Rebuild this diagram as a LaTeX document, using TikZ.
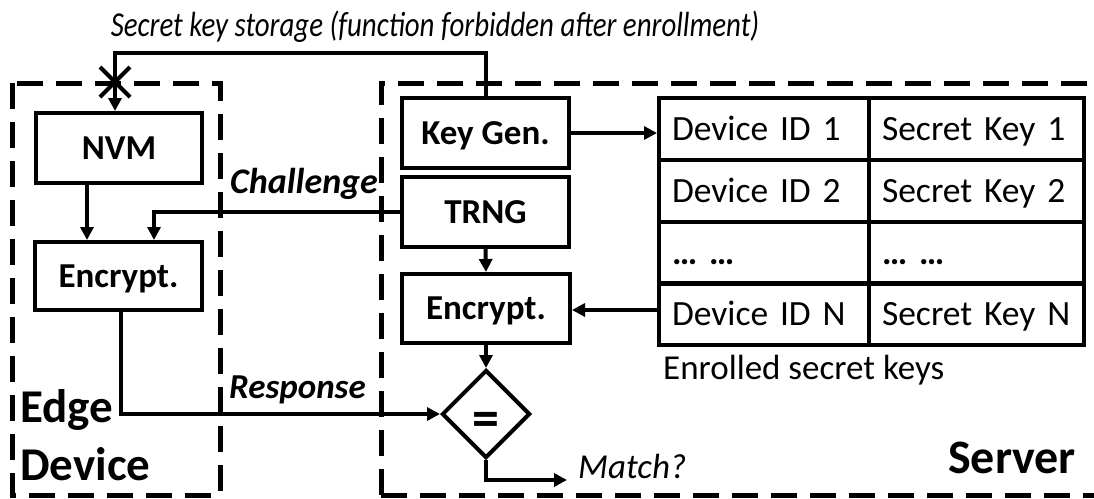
\documentclass[tikz,border=0pt]{standalone}
\usepackage{fontspec}
\setmainfont{Carlito}
\usetikzlibrary{arrows.meta,shapes.geometric}

\tikzset{
  blk/.style={draw, line width=4pt, fill=white, inner sep=0pt,
              minimum width=167pt, minimum height=69pt,
              text height=22.5pt, text depth=0pt,
              font=\fontsize{35}{40}\selectfont\bfseries},
  cell/.style={draw, line width=4pt, inner xsep=13pt, inner ysep=0pt,
               minimum height=62pt, align=left,
               text height=23pt, text depth=0pt,
               font=\fontsize{35.5}{40}\selectfont},
  zone/.style={line width=5pt, dash pattern=on 26pt off 13pt},
  wire/.style={line width=4pt},
  arr/.style={wire, -{Triangle[length=13pt,width=13pt]}},
  lbl/.style={inner sep=0pt, font=\fontsize{35}{40}\selectfont},
  big/.style={inner sep=0pt, font=\fontsize{47}{50}\selectfont\bfseries},
}

\begin{document}
\begin{tikzpicture}[x=1pt,y=-1pt]
\useasboundingbox (0,0) rectangle (1094,498);

% trust zones
\draw[zone] (12,83) rectangle (220,495);
\draw[zone] (381,495) -- (381,83) -- (1120,83);
\draw[zone] (381,495) -- (1120,495);

% edge device blocks
\node[blk, minimum width=166pt, minimum height=70pt] (nvm) at (119,148) {NVM};
\node[blk, minimum height=68pt] (ence) at (118.5,276) {Encrypt.};

% server blocks
\node[blk, minimum height=70pt] (kg) at (485.5,133) {Key Gen.};
\node[blk, minimum height=70pt] (trng) at (485.5,212) {TRNG};
\node[blk, minimum width=168pt] (encs) at (486,308.5) {Encrypt.};
\node[draw, diamond, aspect=1, line width=4pt, inner sep=0pt,
      minimum width=88pt, minimum height=88pt] (eq) at (486,414) {};
\node[inner sep=0pt, font=\fontsize{54}{54}\selectfont\bfseries] (eqsign) at (486,424) {=};

% key table
\foreach \r/\y/\a/\b in {1/129/Device ID 1/Secret Key 1,
                         2/191/Device ID 2/Secret Key 2,
                         3/252.5/\textbf{… …}/\textbf{… …},
                         4/314/Device ID N/Secret Key N}{
  \node[cell, text width=184pt] (c\r1) at (764,\y) {\a};
  \node[cell, text width=189pt] (c\r2) at (976.5,\y) {\b};
}

% helper points
\coordinate (kt1) at (485.5,53);
\coordinate (kt2) at (115,53);
\coordinate (xa) at (87,0);
\coordinate (xb) at (154,0);
\coordinate (xc) at (121,0);
\coordinate (mt) at (567,480);
\coordinate (ty) at (0,133);
\coordinate (by) at (0,310);

% connectors
\draw[arr] (kg.north) -- (kt1) -- (kt2) -- (kt2 |- nvm.north);
\draw[wire] (100,67) -- (130,97) (100,97) -- (130,67);
\draw[arr] (nvm.south -| xa) -- (ence.north -| xa);
\draw[arr] (trng.west) -| (ence.north -| xb);
\draw[arr] (ence.south -| xc) |- (eq.west);
\draw[arr] (trng.south) -- (encs.north);
\draw[arr] (kg.east |- ty) -- (c11.west |- ty);
\draw[arr] (c41.west |- by) -- (encs.east |- by);
\draw[arr] (encs.south) -- (eq.north);
\draw[arr] (eq.south) |- (mt);

% labels
\node[lbl, anchor=base, font=\fontsize{35}{40}\selectfont\itshape] (title) at (435,36)
  {\scalebox{0.825}[1]{Secret key storage (function forbidden after enrollment)}};
\node[lbl, anchor=base west, font=\fontsize{36}{40}\selectfont\bfseries\itshape] (chal) at (230,193) {Challenge};
\node[lbl, anchor=base west, font=\fontsize{35}{40}\selectfont\bfseries\itshape] (resp) at (229,398) {Response};
\node[lbl, anchor=base west] (enr) at (663,379) {Enrolled secret keys};
\node[lbl, anchor=base west, font=\fontsize{35}{40}\selectfont\itshape] (match) at (578,478) {Match?};
\node[big, anchor=base west] (edge) at (20,422) {Edge};
\node[big, anchor=base west] (dev) at (20,480) {Device};
\node[big, anchor=base west, font=\fontsize{48}{50}\selectfont\bfseries] (srv) at (948,473) {Server};
\end{tikzpicture}
\end{document}
